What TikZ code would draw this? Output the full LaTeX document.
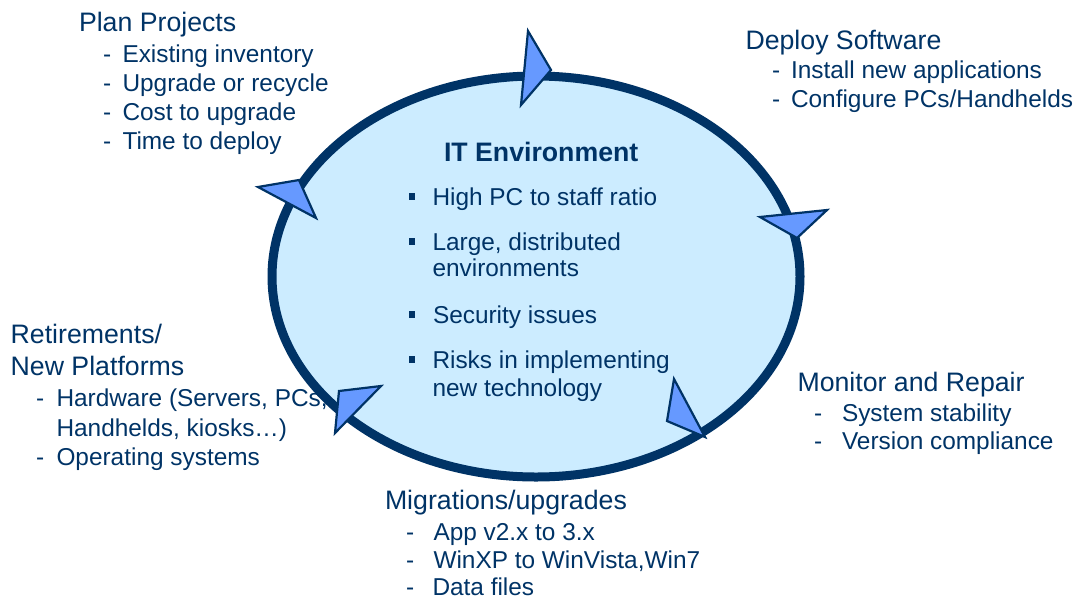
\documentclass[tikz,border=0pt]{standalone}
\usepackage{fontspec}
\setmainfont{Liberation Sans}
\definecolor{navy}{HTML}{003366}
\definecolor{skyfill}{HTML}{CCECFF}
\definecolor{headfill}{HTML}{6699FF}
\begin{document}
\begin{tikzpicture}[x=1pt,y=-1pt,
  ring/.style={draw=navy, line width=9pt, fill=skyfill},
  headtri/.style={draw=navy, fill=headfill, line width=2.2pt, line join=miter},
  itemtxt/.style={anchor=base west, inner sep=0pt, outer sep=0pt, text=navy,
    font=\fontsize{24.4}{29}\selectfont},
  headtxt/.style={itemtxt, font=\fontsize{26.7}{32}\selectfont},
  titletxt/.style={itemtxt, font=\fontsize{26.7}{32}\selectfont\bfseries},
  sqbullet/.style={rectangle, fill=navy, inner sep=0pt, minimum size=6.5pt}]
\useasboundingbox (0,0) rectangle (1078,600);

% central cycle
\draw[ring] (536,276.5) ellipse [x radius=264, y radius=200.5];

% arrowheads along the cycle (clockwise)
\coordinate (t1a) at (528,31);  \coordinate (t1b) at (551,70);  \coordinate (t1c) at (521,105);
\coordinate (t2a) at (760,217); \coordinate (t2b) at (827,210); \coordinate (t2c) at (797,238);
\coordinate (t3a) at (674,379); \coordinate (t3b) at (705,437); \coordinate (t3c) at (667,421);
\coordinate (t4a) at (381,386); \coordinate (t4b) at (335,433); \coordinate (t4c) at (339,391);
\coordinate (t5a) at (258,187); \coordinate (t5b) at (299,180); \coordinate (t5c) at (316,218);
\draw[headtri] (t1a) -- (t1b) -- (t1c) -- cycle;
\draw[headtri] (t2a) -- (t2b) -- (t2c) -- cycle;
\draw[headtri] (t3a) -- (t3b) -- (t3c) -- cycle;
\draw[headtri] (t4a) -- (t4b) -- (t4c) -- cycle;
\draw[headtri] (t5a) -- (t5b) -- (t5c) -- cycle;

% centre text
\node[titletxt] (title) at (444,161.7) {IT Environment};
\node[sqbullet] (b1) at (412,196.5) {};
\node[itemtxt] (c1) at (432.5,205) {High PC to staff ratio};
\node[sqbullet] (b2) at (412,241.5) {};
\node[itemtxt] (c2) at (432.5,250) {Large, distributed};
\node[itemtxt] (c2b) at (432.5,276.7) {environments};
\node[sqbullet] (b3) at (412,314.5) {};
\node[itemtxt] (c3) at (433,323) {Security issues};
\node[sqbullet] (b4) at (412,359.5) {};
\node[itemtxt] (c4) at (432.5,368) {Risks in implementing};
\node[itemtxt] (c4b) at (432.5,396.7) {new technology};

% Plan Projects
\node[headtxt] (pp) at (79,31) {Plan Projects};
\node[itemtxt] (ppd1) at (103,62.5) {-};
\node[itemtxt] (pp1) at (122.5,62.5) {Existing inventory};
\node[itemtxt] (ppd2) at (103,91) {-};
\node[itemtxt] (pp2) at (122.5,91) {Upgrade or recycle};
\node[itemtxt] (ppd3) at (103,120) {-};
\node[itemtxt] (pp3) at (122.5,120) {Cost to upgrade};
\node[itemtxt] (ppd4) at (103,149) {-};
\node[itemtxt] (pp4) at (122.5,149) {Time to deploy};

% Deploy Software
\node[headtxt] (ds) at (745.5,49.5) {Deploy Software};
\node[itemtxt] (dsd1) at (772,78.5) {-};
\node[itemtxt] (ds1) at (791,78.5) {Install new applications};
\node[itemtxt] (dsd2) at (772,107.5) {-};
\node[itemtxt] (ds2) at (791,107.5) {Configure PCs/Handhelds};

% Monitor and Repair
\node[headtxt] (mr) at (797.5,391.5) {Monitor and Repair};
\node[itemtxt] (mrd1) at (814,421.5) {-};
\node[itemtxt] (mr1) at (842,421.5) {System stability};
\node[itemtxt] (mrd2) at (814,449.5) {-};
\node[itemtxt] (mr2) at (842,449.5) {Version compliance};

% Migrations/upgrades
\node[headtxt] (mu) at (385,509.3) {Migrations/upgrades};
\node[itemtxt] (mud1) at (406,540) {-};
\node[itemtxt] (mu1) at (433.5,540) {App v2.x to 3.x};
\node[itemtxt] (mud2) at (406,568.3) {-};
\node[itemtxt] (mu2) at (433.5,568.3) {WinXP to WinVista,Win7};
\node[itemtxt] (mud3) at (406,595) {-};
\node[itemtxt] (mu3) at (432.5,595) {Data files};

% Retirements / New Platforms
\node[headtxt] (rn) at (10.7,343.3) {Retirements/};
\node[headtxt] (rnb) at (10.7,375) {New Platforms};
\node[itemtxt] (rnd1) at (36,406.7) {-};
\node[itemtxt] (rn1) at (56.5,406.7) {Hardware (Servers, PCs,};
\node[itemtxt] (rn1b) at (56.5,436.7) {Handhelds, kiosks…)};
\node[itemtxt] (rnd2) at (36,465) {-};
\node[itemtxt] (rn2) at (56.5,465) {Operating systems};
\end{tikzpicture}
\end{document}
